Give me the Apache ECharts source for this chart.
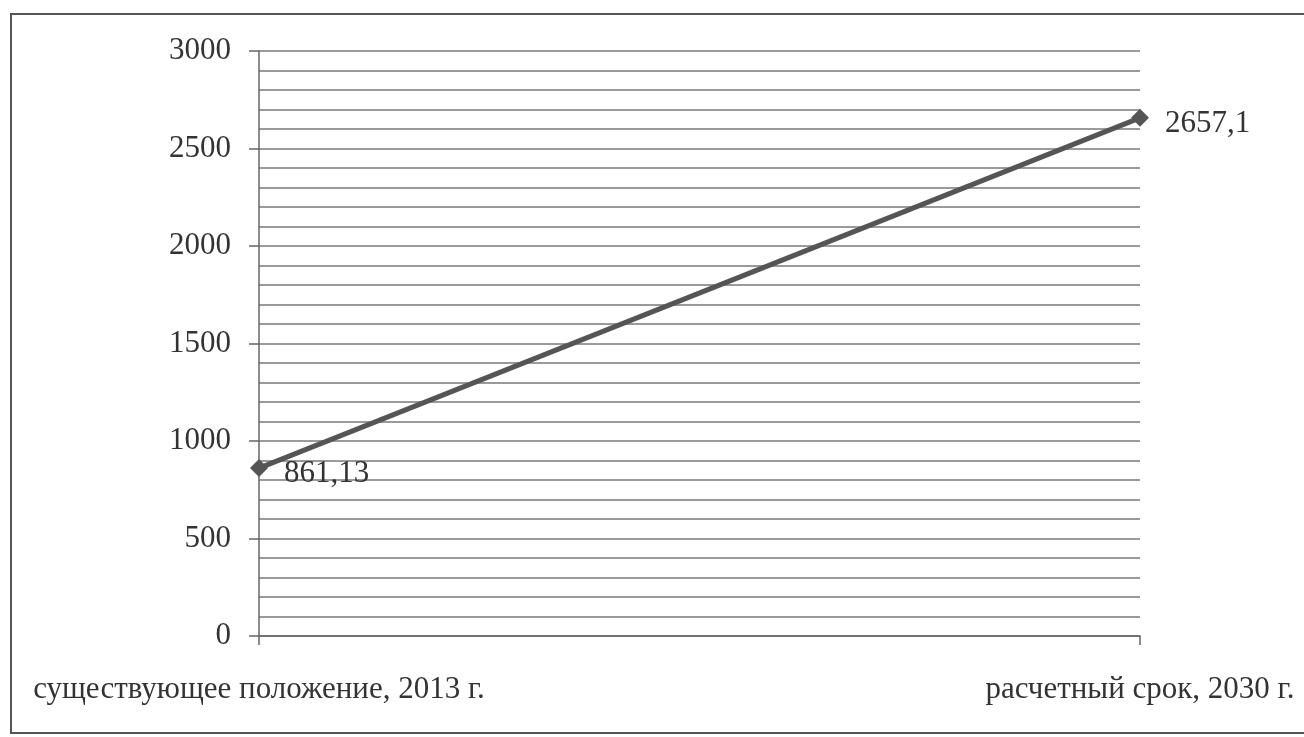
<!DOCTYPE html>
<html>
<head>
<meta charset="utf-8">
<style>
  html, body { margin: 0; padding: 0; background: #fff; }
  #chart { width: 1304px; height: 737px; }
</style>
<script src="https://cdn.jsdelivr.net/npm/echarts@6/dist/echarts.min.js"></script>
</head>
<body>
<div id="chart"></div>
<script>
// Категории (периоды) и значения показателя
const categories = ['существующее положение, 2013 г.', 'расчетный срок, 2030 г.'];
const values = [861.13, 2657.1];
const valueLabels = ['861,13', '2657,1'];
const yTicks = [0, 500, 1000, 1500, 2000, 2500, 3000];

const FONT = '"Liberation Serif", "Times New Roman", serif';
const TEXT = '#333';

const chart = echarts.init(document.getElementById('chart'), null, { renderer: 'canvas' });

chart.setOption({
  backgroundColor: '#fff',
  animation: false,
  graphic: [{
    type: 'polyline',
    shape: { points: [[1304, 14], [11, 14], [11, 733], [1304, 733]] },
    style: { stroke: '#555', lineWidth: 2, fill: null }
  }],
  grid: { left: 259, right: 164, top: 51, bottom: 101, containLabel: false },
  xAxis: {
    type: 'category',
    data: categories,
    boundaryGap: false,
    axisLine: { show: true, lineStyle: { color: '#666', width: 1.5 } },
    axisTick: { show: true, length: 9, lineStyle: { color: '#666', width: 1.5 } },
    axisLabel: { margin: 38, fontFamily: FONT, fontSize: 31, color: TEXT },
    splitLine: { show: false }
  },
  yAxis: {
    type: 'value',
    min: yTicks[0],
    max: yTicks[yTicks.length - 1],
    interval: 500,
    axisLine: { show: true, lineStyle: { color: '#666', width: 1.5 } },
    axisTick: { show: true, length: 10, lineStyle: { color: '#666', width: 1.5 } },
    axisLabel: { margin: 28, fontFamily: FONT, fontSize: 31, color: TEXT, formatter: v => String(v) },
    splitLine: { show: true, lineStyle: { color: '#7a7a7a', width: 1.5 } },
    minorTick: { show: false, splitNumber: 5 },
    minorSplitLine: { show: true, lineStyle: { color: '#7a7a7a', width: 1.5 } }
  },
  series: [{
    type: 'line',
    data: values,
    symbol: 'diamond',
    symbolSize: 18,
    lineStyle: { color: '#555', width: 5 },
    itemStyle: { color: '#555' },
    label: {
      show: true,
      position: 'right',
      distance: 16,
      offset: [0, 6],
      fontFamily: FONT,
      fontSize: 31,
      color: TEXT,
      formatter: p => valueLabels[p.dataIndex]
    }
  }]
});
</script>
</body>
</html>
